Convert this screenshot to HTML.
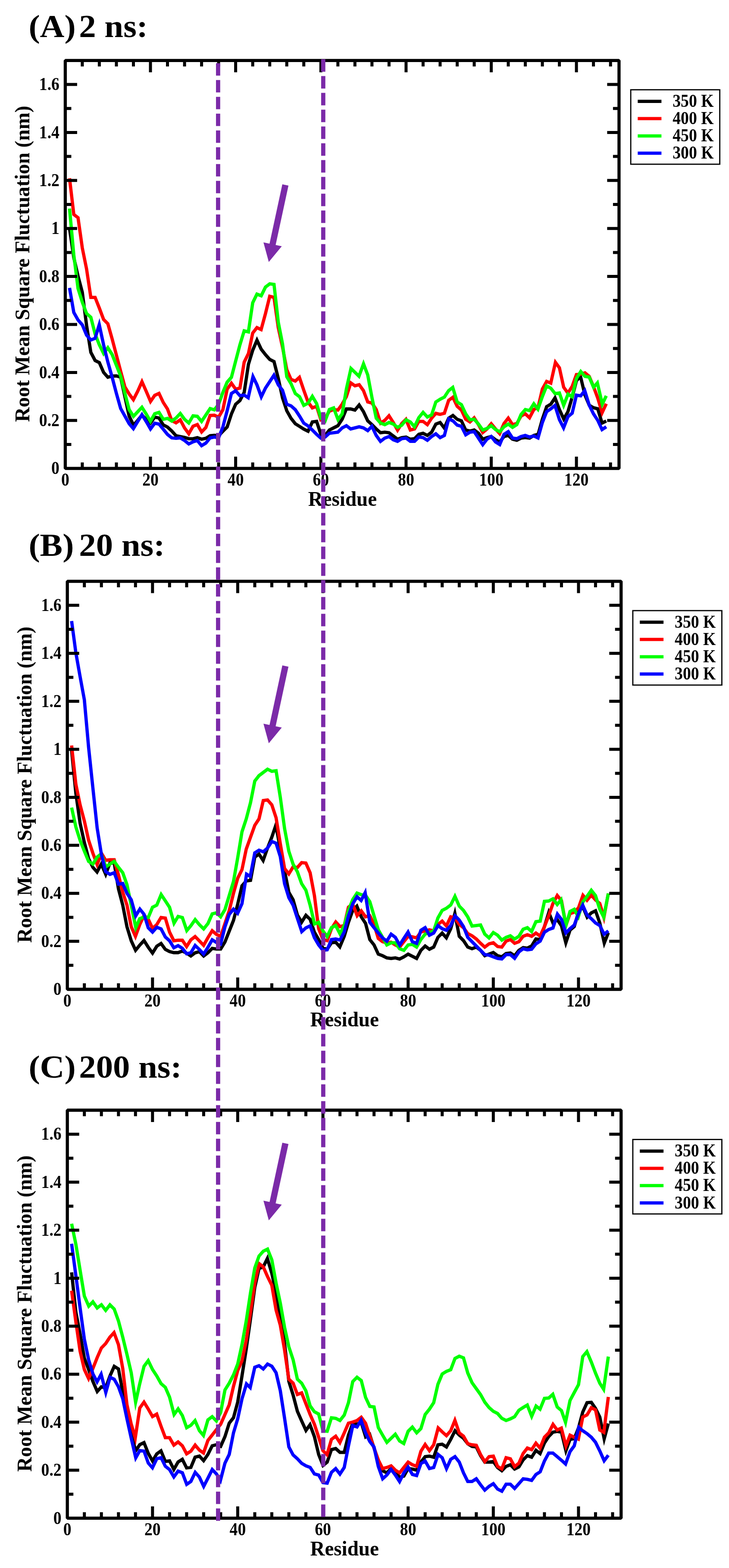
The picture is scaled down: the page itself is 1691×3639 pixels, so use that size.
<!DOCTYPE html>
<html lang="en">
<head>
<meta charset="utf-8">
<title>Root Mean Square Fluctuation per residue at 2 ns, 20 ns and 200 ns</title>
<style>
html,body{margin:0;padding:0;background:#fff}
body{width:1691px;height:3639px;overflow:hidden}
svg{display:block}
text{font-family:'Liberation Serif', 'DejaVu Serif', serif;font-weight:bold;fill:#000}
.cv{fill:none;stroke-width:7.6;stroke-linejoin:miter;stroke-miterlimit:10;stroke-linecap:butt}
.fr{fill:none;stroke:#000;stroke-width:7.3;stroke-linejoin:bevel}
.tk{fill:none;stroke:#000;stroke-width:7}
.tl{font-size:41.6px}
.xl{font-size:48px}
.yl{font-size:48px}
.lg{fill:#fff;stroke:#000;stroke-width:2.8}
.ll{fill:none;stroke-width:7.5}
.lt{font-size:41.6px}
.ti{font-size:75px}
.ds{fill:none;stroke:#7b2aa8;stroke-width:9.75;stroke-dasharray:28.9 10.1}
.ar{fill:#7b2aa8}
</style>
</head>
<body>
<svg role="img" aria-label="RMSF per residue at 2 ns, 20 ns and 200 ns" width="1691" height="3639" viewBox="0 0 1691 3639">
<rect width="1691" height="3639" fill="#fff"/>
<g class="plot">
<polyline class="cv" stroke="#000000" points="161.3,530.3 171.2,598 181,640.6 190.9,678.2 200.8,755.1 210.7,817.8 220.6,836.6 230.4,841.6 240.3,864.2 250.2,875.4 260.1,872.9 270,872.4 279.9,875.4 289.7,920.6 299.6,965.7 309.7,986.7 319.4,975.7 329.3,963.4 339.1,973.2 349,981.8 358.9,968.1 368.8,970.1 378.7,986.2 388.5,991.2 398.4,1000.2 408.3,1011.2 418.2,1013.2 428.1,1015.2 437.9,1018.2 447.8,1018.2 457.7,1015.8 467.6,1019.2 477.5,1017.2 487.4,1011.2 497.2,1010.2 507.1,1011.2 517,1000.9 526.9,990.9 536.8,960.8 546.6,938.2 556.5,929.5 566.4,910.7 576.3,845.5 586.2,812.9 596.1,789.6 605.9,810.4 615.8,823 625.7,834.2 635.6,839.2 645.5,878.1 655.3,923.2 665.2,953.3 675.1,970.8 685,983.4 694.9,989.6 704.7,995.9 714.6,1000.9 724.5,979.2 734.4,978 744.3,1008 754.1,1010.6 764,998 773.9,993 783.8,988 793.7,973 803.5,949.1 813.4,949.1 823.3,951.7 833.1,940 843.1,955.4 853,976.7 862.8,985.5 872.7,995.5 882.6,1004.3 892.5,1003 902.4,1004.3 912.2,1011.8 922.1,1019.3 932,1015.6 941.9,1014.3 951.8,1019.3 961.6,1018.1 971.5,1008 981.4,1005.5 991.3,1010.6 1001.2,1003 1011,984.2 1020.9,980.5 1030.6,993.3 1040.7,970.5 1050.6,964.2 1060.5,973 1070.3,976.7 1080.2,998 1090.1,1000.5 1100,998 1109.9,1005.5 1119.7,1019.3 1129.6,1015.6 1139.5,1013.1 1149.4,1020.6 1159.3,1025.6 1169.1,1013.1 1179,1010.6 1188.9,1019.3 1198.8,1021.8 1208.7,1016.8 1218.5,1015.6 1228.4,1016.8 1238.3,1010.6 1248.2,1008 1258.1,973 1268,943.7 1277.8,937.9 1287.4,923.4 1297.6,950.4 1307.6,972.4 1317.4,955.4 1327.2,922 1337.1,883.6 1346.4,873.2 1356.9,917 1366.8,940.4 1376.6,946.2 1386.5,948.7 1396.5,981.8 1406.3,977.1"/>
<polyline class="cv" stroke="#ff0000" points="161.3,413.8 171.2,497.7 181,505.3 190.9,575.4 200.8,624.3 210.7,690.2 220.6,690.2 230.4,715 240.3,741.4 250.2,751.4 260.1,786.5 270,824.1 279.9,861.7 289.7,898 299.6,914.3 309.4,927.5 319.4,908 329.3,885.9 339.1,908 349.2,931.7 358.9,917.5 368.8,913 378.7,934 388.5,949.1 398.4,976.1 408.3,981.2 418.1,974.3 428.1,993.2 437.9,1006.6 447.8,989.2 457.7,985.2 467.7,1002.4 477.5,992.2 487.4,964.1 497.2,963.7 507.1,968.1 517,950.8 526.9,903.2 536.8,889.3 546.6,903.2 556.5,900.7 566.4,840.5 576.3,820.5 586.2,772.8 596,760.3 605.7,764.9 615.8,727.7 625.7,687.6 635.6,690.1 645.5,760.3 655.3,805.4 665.2,858 675.1,880.6 685,884.4 694.5,875.8 704.7,905.7 714.6,933.2 724.5,946.6 734.4,942.9 744.3,974.2 754.1,970.5 764,954.2 773.9,950.4 783.8,951.7 793.7,937.9 803.5,920.3 813.7,888.6 823.3,895.3 833.2,892.8 843.1,906.5 853,932.9 862.8,935.4 872.7,950.4 882.9,982.1 892.5,975.5 902.3,964.9 912.2,980.5 922.2,998.4 932,983 941.6,973.2 951.8,998 961.6,995.5 971.5,978 981.4,978 991.3,985.5 1001.2,970.5 1011,959.2 1020.9,961.7 1030.8,959.2 1040.7,929.1 1050.5,922 1060.5,942.9 1070.3,951.7 1080.2,973 1090.1,979.2 1099.9,969.7 1109.9,985.5 1119.8,1003.8 1129.6,995.5 1139.5,983.5 1149.4,995.5 1159,1006.3 1169.1,983 1179,970.3 1188.9,985.5 1198.8,983 1208.7,965.4 1218.5,960.4 1228.3,969.6 1238.3,950.4 1248.2,945.4 1258.1,902.8 1268,885.2 1277.6,889 1288.4,841 1297.6,853.5 1307.5,898.6 1317.3,912.3 1327.2,896.9 1337.1,869.4 1347,868.5 1356.9,865.2 1366.8,873.5 1376.6,896.9 1386.5,923.7 1396.7,957.8 1406.3,937"/>
<polyline class="cv" stroke="#00ff00" points="161.3,484 171.2,591.7 181,669.4 190.9,701.3 200.8,727.6 210.7,736.3 220.6,775.2 230.4,800.3 240.4,820.4 250.2,807.1 260.1,822.8 270,847.9 279.9,872.9 289.7,913 299.6,950.6 309.6,966.2 319.4,955.6 329.2,945.1 339.1,960.7 349,977.8 358.9,960.1 368.8,957.1 378.7,973.1 388.5,971.1 398.4,977.1 408.3,970.1 418.2,959.6 428.1,973.1 437.9,981.7 447.8,965.1 457.7,966.1 467.5,978.1 477.5,963.1 487.4,948.1 497.2,951.1 507.1,938.2 517,910.7 526.9,886.9 536.8,875.6 546.6,838 556.5,800.4 566.4,767.8 576.2,770.2 586.2,702.7 596,682.6 605.9,686.4 615.8,666.3 625.7,658.8 635.6,660.1 645.5,747.8 655.3,797.9 665.2,874.3 675.1,890.6 685,913.2 694.9,920.7 704.7,940.8 714.6,935.7 724.5,919.8 734.4,936.6 744.3,970.5 753.9,977.3 764,950.4 773.9,946.6 784.1,973.8 793.7,960.4 803.5,902.8 814.1,855.1 823.3,863.9 832.7,873.2 843.2,844.4 853,870.2 862.8,922.8 872.7,970.5 882.6,981.7 892.5,985.5 902.4,980.5 912.2,984.2 922.1,991.8 932,986.7 941.9,974.2 951.8,979.2 961.4,990.3 971.5,969.2 981.4,957 991.3,967.9 1001.2,962.9 1011,932.9 1020.9,926.6 1030.8,921.6 1040.7,906.5 1050.2,899.1 1060.5,932.9 1070.3,939.1 1080.2,960.4 1090.1,974.2 1100,973 1109.9,984.2 1119.7,998 1129.6,994.3 1139.5,988 1149.4,996.8 1159.3,1001.8 1169.1,990.5 1179,984.2 1188.9,991.8 1198.8,985.5 1208.7,961.7 1218.5,950.4 1228.4,952.9 1238.3,937.2 1247.8,949.6 1258.1,920.3 1268,895.6 1277.8,901.1 1287.7,913.6 1297.6,912 1307.5,940.5 1317.7,914.7 1326.8,920.6 1337.1,878.6 1347.1,862.1 1356.9,873.5 1366.8,875.2 1376.9,898.9 1385.7,888.6 1397.1,937.9 1406.3,918.7"/>
<polyline class="cv" stroke="#0000ff" points="161.3,668.2 171.2,725.1 181,742.6 190.9,753.9 200.8,777.7 210.7,789 220.6,785.2 230.2,753.5 240.3,800.3 250.2,840.4 260.1,875.4 270,913 279.9,948.1 289.7,965.7 299.6,983.2 309.4,994.7 319.4,978.2 329.3,962.5 339.1,978.2 349.1,995.6 358.9,982.2 368.8,984.2 378.7,996.2 388.5,1008.2 398.4,1016.2 408.3,1017.2 418.2,1016.2 428.1,1022.3 437.9,1030.3 447.8,1025.3 457.7,1022.3 467.6,1034.3 477.5,1028.3 487.4,1016.2 497.2,1014.2 507.1,1016.2 517,990.9 526.9,953.3 536.8,913.2 546.6,906.9 556.5,918.2 566.4,916.9 575.7,923.1 586.8,874 596,893.1 606.1,920.9 615.8,900.7 625.7,885.6 635.4,870.8 645.5,893.1 655.3,905.7 665.2,938.2 675.1,942 685,950.8 694.9,965.8 704.7,982.1 714.6,988.4 724.5,998 734.4,1008 744.3,1016.8 754.1,1014.3 764,1005.5 773.9,1004.3 783.8,1003 793.7,993 803.5,988 813.4,995.5 823.3,993 833.2,990.5 843.1,993 853,999.3 862.6,989.3 872.7,1010.6 882.6,1024.3 892.5,1016.8 902.4,1013.1 912.2,1020.6 922.1,1024.3 932,1018.1 941.9,1016.8 951.8,1024.3 961.6,1024.3 971.5,1014.3 981.4,1015.6 991.3,1021.8 1001.2,1013.1 1011,1006.8 1020.9,1015.6 1030.8,1010.6 1040.9,972.1 1050.6,976.7 1060.5,986.7 1070.3,989.2 1080.3,1009.1 1090.1,1003 1100,1001.8 1109.9,1016.8 1119.8,1032 1129.6,1019.3 1139.5,1013.1 1149.4,1025.6 1159.2,1031.6 1169.1,1008 1179,1001.8 1188.9,1016.8 1198.8,1018.1 1208.7,1013.1 1218.5,1010.6 1228.4,1014.3 1238.3,1011.8 1248,1016.4 1258.1,980.5 1268,955.4 1277.8,948.7 1287.3,940.9 1297.6,973.8 1307.3,992.9 1317.4,967.1 1327.2,958.8 1337.1,917 1347,918.7 1356.4,906.6 1366.8,940.4 1376.6,960.4 1386.5,975.5 1396.5,996.9 1406.3,990.5"/>
<rect class="fr" x="151.4" y="140.3" width="1284.5" height="946.9"/>
<path class="tk" d="M190.9 1087.2v-14M190.9 140.3v14M230.4 1087.2v-14M230.4 140.3v14M270 1087.2v-14M270 140.3v14M309.5 1087.2v-14M309.5 140.3v14M349 1087.2v-27.5M349 140.3v27.5M388.5 1087.2v-14M388.5 140.3v14M428.1 1087.2v-14M428.1 140.3v14M467.6 1087.2v-14M467.6 140.3v14M507.1 1087.2v-14M507.1 140.3v14M546.6 1087.2v-27.5M546.6 140.3v27.5M586.2 1087.2v-14M586.2 140.3v14M625.7 1087.2v-14M625.7 140.3v14M665.2 1087.2v-14M665.2 140.3v14M704.7 1087.2v-14M704.7 140.3v14M744.3 1087.2v-27.5M744.3 140.3v27.5M783.8 1087.2v-14M783.8 140.3v14M823.3 1087.2v-14M823.3 140.3v14M862.8 1087.2v-14M862.8 140.3v14M902.4 1087.2v-14M902.4 140.3v14M941.9 1087.2v-27.5M941.9 140.3v27.5M981.4 1087.2v-14M981.4 140.3v14M1020.9 1087.2v-14M1020.9 140.3v14M1060.5 1087.2v-14M1060.5 140.3v14M1100 1087.2v-14M1100 140.3v14M1139.5 1087.2v-27.5M1139.5 140.3v27.5M1179 1087.2v-14M1179 140.3v14M1218.5 1087.2v-14M1218.5 140.3v14M1258.1 1087.2v-14M1258.1 140.3v14M1297.6 1087.2v-14M1297.6 140.3v14M1337.1 1087.2v-27.5M1337.1 140.3v27.5M1376.6 1087.2v-14M1376.6 140.3v14M1416.2 1087.2v-14M1416.2 140.3v14M151.4 1031.5h14M1435.9 1031.5h-14M151.4 975.8h27.5M1435.9 975.8h-27.5M151.4 920.1h14M1435.9 920.1h-14M151.4 864.4h27.5M1435.9 864.4h-27.5M151.4 808.7h14M1435.9 808.7h-14M151.4 753h27.5M1435.9 753h-27.5M151.4 697.3h14M1435.9 697.3h-14M151.4 641.6h27.5M1435.9 641.6h-27.5M151.4 585.9h14M1435.9 585.9h-14M151.4 530.2h27.5M1435.9 530.2h-27.5M151.4 474.5h14M1435.9 474.5h-14M151.4 418.8h27.5M1435.9 418.8h-27.5M151.4 363.1h14M1435.9 363.1h-14M151.4 307.4h27.5M1435.9 307.4h-27.5M151.4 251.7h14M1435.9 251.7h-14M151.4 196h27.5M1435.9 196h-27.5"/>
<text class="tl" text-anchor="middle" transform="translate(151.4 1127.1) scale(0.906 1)">0</text>
<text class="tl" text-anchor="middle" transform="translate(349.02 1127.1) scale(0.906 1)">20</text>
<text class="tl" text-anchor="middle" transform="translate(546.64 1127.1) scale(0.906 1)">40</text>
<text class="tl" text-anchor="middle" transform="translate(744.26 1127.1) scale(0.906 1)">60</text>
<text class="tl" text-anchor="middle" transform="translate(941.88 1127.1) scale(0.906 1)">80</text>
<text class="tl" text-anchor="middle" transform="translate(1139.5 1127.1) scale(0.906 1)">100</text>
<text class="tl" text-anchor="middle" transform="translate(1337.12 1127.1) scale(0.906 1)">120</text>
<text class="tl" text-anchor="end" transform="translate(137.9 1100.4) scale(0.906 1)">0</text>
<text class="tl" text-anchor="end" transform="translate(137.9 989) scale(0.906 1)">0.2</text>
<text class="tl" text-anchor="end" transform="translate(137.9 877.6) scale(0.906 1)">0.4</text>
<text class="tl" text-anchor="end" transform="translate(137.9 766.2) scale(0.906 1)">0.6</text>
<text class="tl" text-anchor="end" transform="translate(137.9 654.8) scale(0.906 1)">0.8</text>
<text class="tl" text-anchor="end" transform="translate(137.9 543.4) scale(0.906 1)">1</text>
<text class="tl" text-anchor="end" transform="translate(137.9 432) scale(0.906 1)">1.2</text>
<text class="tl" text-anchor="end" transform="translate(137.9 320.6) scale(0.906 1)">1.4</text>
<text class="tl" text-anchor="end" transform="translate(137.9 209.2) scale(0.906 1)">1.6</text>
<text class="xl" text-anchor="middle" transform="translate(794.37 1173.6) scale(0.98 1)">Residue</text>
<text class="yl" text-anchor="middle" transform="translate(67.9 612.35) rotate(-90) scale(0.9845 1)">Root Mean Square Fluctuation (nm)</text>
<rect class="lg" x="1463.1" y="208.3" width="206.5" height="172.8"/>
<path class="ll" stroke="#000000" d="M1479.3 235.2h55"/>
<text class="lt" text-anchor="end" transform="translate(1655.53 248) scale(0.906 1)">350 K</text>
<path class="ll" stroke="#ff0000" d="M1479.3 275.3h55"/>
<text class="lt" text-anchor="end" transform="translate(1655.53 288.1) scale(0.906 1)">400 K</text>
<path class="ll" stroke="#00ff00" d="M1479.3 315.4h55"/>
<text class="lt" text-anchor="end" transform="translate(1655.53 328.2) scale(0.906 1)">450 K</text>
<path class="ll" stroke="#0000ff" d="M1479.3 355.5h55"/>
<text class="lt" text-anchor="end" transform="translate(1655.53 368.3) scale(0.906 1)">300 K</text>
<text class="ti" transform="translate(66.4 85.5) scale(1.05 1)">(A)</text>
<text class="ti" transform="translate(183.3 85.5) scale(1.05 1)">2 ns:</text>
</g>
<g class="plot">
<polyline class="cv" stroke="#000000" points="166.1,1741.4 176,1841.6 185.8,1910.5 195.7,1955.3 205.6,1992.9 215.5,2012.9 225.1,2023.7 235,2005.5 245.2,2029.1 255,2002.9 264.9,2002.9 274.8,2063 284.7,2100.6 294.5,2150.8 304.4,2183.3 314.5,2205.3 324.2,2193.4 334,2182.8 343.9,2198.4 353.8,2212 363.7,2195.9 373.6,2189.6 383.5,2203.4 393.3,2208.4 403.2,2210.9 413.1,2210.9 423,2207.1 432.9,2212.2 442.7,2218.7 452.6,2211.2 462.5,2208.6 472.4,2218.7 482.3,2211.2 492.2,2201.1 502,2202.4 511.9,2202.4 521.8,2186.1 531.7,2161 541.6,2136 551.4,2098.4 561.3,2055.8 571.2,2044.5 581.1,2043.2 591,1989.3 600.8,1982.1 610.4,1997 620.6,1968 630.5,1943 639.9,1915 650.2,1970.6 660.1,2020.7 670,2070.8 679.9,2088.3 689.8,2123.4 699.7,2140.1 709.6,2124.2 719.4,2133.5 729.3,2163.5 739.2,2180.5 749.1,2200.5 758.9,2203 768.8,2188 778.7,2186.7 788.3,2197.4 798.5,2172.9 808.3,2140.4 818.2,2112.8 827.8,2103 838,2127.8 847.9,2142.9 857.8,2180.5 867.6,2193 877.5,2214.3 887.4,2218 897.3,2223.1 907.2,2224.3 917,2223.1 926.9,2225.6 936.8,2220.6 946.7,2214.3 956.6,2219.3 966.4,2224.3 976.3,2205.5 986.2,2195.5 996.1,2203 1006,2198 1015.8,2175.4 1025.7,2165.6 1035.4,2176.4 1045.5,2155.4 1055.1,2119.9 1065.3,2172.9 1075.1,2183 1085,2198 1094.9,2201.8 1104.8,2198 1114.7,2205.5 1124.5,2218 1134.4,2214.3 1144.3,2210.5 1154.2,2218 1164.1,2220.6 1173.9,2213 1183.8,2211.8 1193.7,2218 1203.6,2205.5 1213.5,2199.2 1223.3,2200.5 1233.2,2195.5 1243.1,2179.2 1253,2180.5 1262.9,2150.4 1272.9,2117.7 1283,2142.7 1292.5,2134.2 1302.4,2148.7 1312.5,2188 1322.2,2158.7 1332,2150.4 1341.9,2117 1351.5,2103.2 1362,2128.5 1371.6,2118.6 1381.4,2113.8 1391.3,2142 1401.7,2188.6 1411.1,2164.6"/>
<polyline class="cv" stroke="#ff0000" points="166.1,1730.1 176,1820.3 185.8,1867.9 195.7,1905.5 205.6,1950.3 215.5,1980.3 225.3,2006.3 235.7,1980.8 245.1,1996.6 255,1995.4 264.9,1995.4 274.8,2030.5 284.7,2070.6 294.5,2100.6 304.4,2150.8 314.2,2173 324.2,2145.7 334.2,2124.2 343.9,2133.2 354,2154.8 363.7,2145.7 373.6,2129.4 383.5,2130.7 393.3,2163.3 403.2,2183.3 413.1,2182.1 423,2182.1 432.8,2196.8 442.7,2181.1 452.6,2173.6 462.5,2183.6 472.3,2193.9 482.3,2176.1 492.2,2160.1 502,2168.5 511.8,2173.3 521.8,2143.5 531.7,2113.4 541.6,2073.3 551.4,2038.2 561.3,2018.2 571.2,1970.6 581.1,1943 591,1915.4 600.8,1900.4 610.7,1857.8 620.6,1856.5 630.5,1867.8 640.4,1897.9 650.2,1958 660.1,2015.7 669.9,2028.2 679.9,2011.9 689.8,2013.2 699.7,2001.9 709.5,2003.1 719.4,2025.7 729.3,2078.3 739.2,2155.4 749.1,2180.5 758.9,2183 768.8,2155.4 778.8,2139.8 788.6,2150.4 798.5,2147.9 808.3,2105.3 817.9,2097.7 828.5,2125.2 838,2113.9 847.9,2127.8 857.8,2125.3 867.6,2145.4 877.5,2177.9 887.4,2185.5 897.3,2188 907.2,2186.7 917,2193 926.9,2198 936.8,2185.5 946.7,2172.9 956.6,2174.2 966.4,2176.7 976.3,2162.9 986.2,2160.4 996.1,2157.9 1006,2160.4 1015.8,2145.4 1025.7,2137.8 1035.4,2148.9 1045.5,2127.8 1055.4,2130.3 1065.3,2145.4 1075.1,2152.9 1085,2166.7 1094.9,2171.7 1104.8,2179.2 1114.7,2189.2 1124.5,2198 1134.4,2190.5 1144.3,2188 1154.2,2196.7 1164.1,2198 1173.9,2184.2 1183.8,2180.5 1193.7,2189.2 1203.6,2185.5 1213.5,2172.9 1223.3,2169.2 1233.2,2172.9 1243.1,2165.4 1252.9,2172.4 1262.9,2150.4 1272.8,2125.3 1282.6,2096.9 1292.6,2078.3 1302.4,2090.2 1312.8,2147.5 1322.2,2120.3 1332,2117 1341.9,2106.9 1352.2,2077.9 1361.7,2089.3 1371.6,2077.4 1381.4,2088.6 1391.3,2096.9 1400.8,2129.1 1411.1,2073.5"/>
<polyline class="cv" stroke="#00ff00" points="166.1,1874.2 176,1919.3 185.8,1950.3 195.7,1975.3 205.6,1999.1 215.5,2005.4 225.4,1989.1 234.9,1981.5 245.4,2012 255,2005.4 264.9,1999.1 274.8,2012.9 284.7,2025.4 294.5,2053 304.4,2100.6 315,2152.8 324.2,2132 334.1,2128.2 343.9,2129.4 353.8,2105.6 363.7,2100.6 373.8,2076 383.5,2090.6 393.3,2105.6 403.7,2142.5 413.1,2126.9 423,2129.4 433.3,2159.6 442.7,2148.5 452.7,2134.3 462.5,2146 472.4,2155.8 482.3,2143.5 492.2,2120.9 502,2118.4 511.8,2127.8 521.8,2110.9 531.7,2078.3 541.6,2045.7 551.4,1990.6 561.3,1930.5 571.2,1900.4 581.1,1862.8 591,1812.7 600.8,1800.1 610.7,1792.6 620.6,1785.1 630.5,1790.1 640.4,1788.8 650.2,1850.3 660.1,1922.9 670,1975.6 679.9,2005.6 689.8,2023.2 699.7,2050.8 709.5,2065.8 719.4,2100.9 729.5,2144.4 739.2,2140.4 749.1,2160.4 758.8,2173.4 768.8,2152.9 778.7,2147.9 788.6,2167.2 798.5,2147.9 808.3,2112.8 818.2,2087.7 828.1,2072.7 838,2076.4 847.9,2077.7 857.8,2092.7 867.6,2125.3 877.5,2157.9 887.4,2175.4 897.3,2193 907.2,2188 917,2188 926.9,2201.8 936.8,2205.5 946.7,2193 956.6,2191.7 966.4,2198 976.3,2180.5 986.2,2167.9 996.1,2164.2 1006,2160.4 1015.8,2130.3 1025.7,2112.8 1035.6,2107.8 1045.5,2100.3 1055.3,2080.3 1065.3,2102.8 1075.1,2112.8 1085,2127.8 1094.9,2149.1 1104.8,2147.9 1114.7,2146.6 1124.5,2167.9 1134.4,2176.7 1144.3,2164.2 1154.2,2170.4 1164.1,2181.7 1173.9,2175.4 1183.8,2171.7 1193.7,2179.2 1203.6,2172.9 1213.5,2156.6 1223.3,2152.9 1233,2161.8 1243.1,2139.1 1253,2137.8 1262.9,2091.9 1272.8,2091.1 1282.6,2086 1292.5,2099.1 1301.4,2088.3 1312.8,2147.5 1322.2,2115.3 1332,2110.3 1341.5,2127.3 1351.8,2093.6 1361.7,2080.2 1371.6,2066.1 1381.4,2078.5 1391.3,2110.3 1400.4,2128.2 1411.1,2073.5"/>
<polyline class="cv" stroke="#0000ff" points="166.1,1441.3 176,1515.2 185.8,1570.4 195.7,1624.3 205.6,1735.1 215.5,1829.1 225.4,1921.8 235.2,1982.8 245.1,2022.9 255,2029.2 264.9,2025.4 274.8,2051.8 284.7,2050.5 294.5,2073.1 304.4,2088.1 314.8,2125.5 324.4,2109.8 334.1,2121.9 343.9,2153.3 353.8,2163.2 363.7,2152 373.6,2155.8 383.5,2174.6 393.3,2183.3 403.2,2199.6 413.1,2194.6 423,2200.9 432.9,2213.4 442.7,2211.2 452.7,2194.2 462.5,2203.6 472.3,2214.2 482.3,2198.6 492.2,2181.1 502,2187.3 511.8,2190.9 521.8,2151 531.7,2122.2 541.6,2110 551.2,2119.6 561.3,2097.1 571.9,2028.8 580.5,2034 591,1979.3 600.8,1973.1 610.7,1976.8 620.6,1968 630.5,1953 640.4,1956.8 650.2,1988.1 660.1,2050.8 670,2083.3 679.9,2100.9 689.8,2131 700,2162 709.5,2153.5 719.3,2148.7 729.3,2176.1 739.2,2193 749.1,2205.5 758.9,2204.3 768.8,2180.5 778.7,2179.2 788.6,2181.7 798.5,2162.9 808.3,2125.3 818.2,2097.7 828.2,2081.1 837.7,2089.9 847,2071.7 857.8,2140.4 867.6,2152.9 877.5,2165.4 887.4,2176.7 897.2,2184.1 907.2,2168 917,2175.4 927,2193.4 936.8,2177.9 946.5,2163.1 956.6,2185.5 966.4,2189.2 976.3,2159.1 986.2,2152.9 996.1,2170.4 1006,2165.4 1015.9,2148.1 1025.7,2155.4 1035.6,2159.1 1045.5,2147.9 1055.6,2125.4 1065.3,2135.3 1075.1,2150.4 1085,2175.4 1094.9,2185.5 1104.8,2195.5 1114.7,2205.5 1124.5,2215.5 1134.4,2216.8 1144.3,2220.6 1154.2,2224.3 1164.1,2225.6 1173.9,2215.5 1183.8,2215.5 1193.7,2224.1 1203.6,2209.3 1213.5,2201.8 1223.3,2204.3 1233.2,2203 1243.1,2190.5 1253,2184.2 1262.9,2163.7 1272.8,2157.1 1282.6,2153.7 1293,2121.5 1302.4,2133.7 1312.7,2165.1 1322.2,2155.4 1332,2147 1341.9,2120.3 1351.7,2100.8 1361.7,2123.6 1371.6,2132 1381.4,2142 1391.3,2147.9 1401.3,2168.2 1411.1,2160.4"/>
<rect class="fr" x="156.2" y="1349.1" width="1284.5" height="946.9"/>
<path class="tk" d="M195.7 2296v-14M195.7 1349.1v14M235.2 2296v-14M235.2 1349.1v14M274.8 2296v-14M274.8 1349.1v14M314.3 2296v-14M314.3 1349.1v14M353.8 2296v-27.5M353.8 1349.1v27.5M393.3 2296v-14M393.3 1349.1v14M432.9 2296v-14M432.9 1349.1v14M472.4 2296v-14M472.4 1349.1v14M511.9 2296v-14M511.9 1349.1v14M551.4 2296v-27.5M551.4 1349.1v27.5M591 2296v-14M591 1349.1v14M630.5 2296v-14M630.5 1349.1v14M670 2296v-14M670 1349.1v14M709.5 2296v-14M709.5 1349.1v14M749.1 2296v-27.5M749.1 1349.1v27.5M788.6 2296v-14M788.6 1349.1v14M828.1 2296v-14M828.1 1349.1v14M867.6 2296v-14M867.6 1349.1v14M907.2 2296v-14M907.2 1349.1v14M946.7 2296v-27.5M946.7 1349.1v27.5M986.2 2296v-14M986.2 1349.1v14M1025.7 2296v-14M1025.7 1349.1v14M1065.3 2296v-14M1065.3 1349.1v14M1104.8 2296v-14M1104.8 1349.1v14M1144.3 2296v-27.5M1144.3 1349.1v27.5M1183.8 2296v-14M1183.8 1349.1v14M1223.3 2296v-14M1223.3 1349.1v14M1262.9 2296v-14M1262.9 1349.1v14M1302.4 2296v-14M1302.4 1349.1v14M1341.9 2296v-27.5M1341.9 1349.1v27.5M1381.4 2296v-14M1381.4 1349.1v14M1421 2296v-14M1421 1349.1v14M156.2 2240.3h14M1440.7 2240.3h-14M156.2 2184.6h27.5M1440.7 2184.6h-27.5M156.2 2128.9h14M1440.7 2128.9h-14M156.2 2073.2h27.5M1440.7 2073.2h-27.5M156.2 2017.5h14M1440.7 2017.5h-14M156.2 1961.8h27.5M1440.7 1961.8h-27.5M156.2 1906.1h14M1440.7 1906.1h-14M156.2 1850.4h27.5M1440.7 1850.4h-27.5M156.2 1794.7h14M1440.7 1794.7h-14M156.2 1739h27.5M1440.7 1739h-27.5M156.2 1683.3h14M1440.7 1683.3h-14M156.2 1627.6h27.5M1440.7 1627.6h-27.5M156.2 1571.9h14M1440.7 1571.9h-14M156.2 1516.2h27.5M1440.7 1516.2h-27.5M156.2 1460.5h14M1440.7 1460.5h-14M156.2 1404.8h27.5M1440.7 1404.8h-27.5"/>
<text class="tl" text-anchor="middle" transform="translate(156.2 2335.9) scale(0.906 1)">0</text>
<text class="tl" text-anchor="middle" transform="translate(353.82 2335.9) scale(0.906 1)">20</text>
<text class="tl" text-anchor="middle" transform="translate(551.44 2335.9) scale(0.906 1)">40</text>
<text class="tl" text-anchor="middle" transform="translate(749.06 2335.9) scale(0.906 1)">60</text>
<text class="tl" text-anchor="middle" transform="translate(946.68 2335.9) scale(0.906 1)">80</text>
<text class="tl" text-anchor="middle" transform="translate(1144.3 2335.9) scale(0.906 1)">100</text>
<text class="tl" text-anchor="middle" transform="translate(1341.92 2335.9) scale(0.906 1)">120</text>
<text class="tl" text-anchor="end" transform="translate(142.7 2309.2) scale(0.906 1)">0</text>
<text class="tl" text-anchor="end" transform="translate(142.7 2197.8) scale(0.906 1)">0.2</text>
<text class="tl" text-anchor="end" transform="translate(142.7 2086.4) scale(0.906 1)">0.4</text>
<text class="tl" text-anchor="end" transform="translate(142.7 1975) scale(0.906 1)">0.6</text>
<text class="tl" text-anchor="end" transform="translate(142.7 1863.6) scale(0.906 1)">0.8</text>
<text class="tl" text-anchor="end" transform="translate(142.7 1752.2) scale(0.906 1)">1</text>
<text class="tl" text-anchor="end" transform="translate(142.7 1640.8) scale(0.906 1)">1.2</text>
<text class="tl" text-anchor="end" transform="translate(142.7 1529.4) scale(0.906 1)">1.4</text>
<text class="tl" text-anchor="end" transform="translate(142.7 1418) scale(0.906 1)">1.6</text>
<text class="xl" text-anchor="middle" transform="translate(799.17 2382.4) scale(0.98 1)">Residue</text>
<text class="yl" text-anchor="middle" transform="translate(72.7 1821.15) rotate(-90) scale(0.9845 1)">Root Mean Square Fluctuation (nm)</text>
<rect class="lg" x="1467.9" y="1417.1" width="206.5" height="172.8"/>
<path class="ll" stroke="#000000" d="M1484.1 1444h55"/>
<text class="lt" text-anchor="end" transform="translate(1660.33 1456.8) scale(0.906 1)">350 K</text>
<path class="ll" stroke="#ff0000" d="M1484.1 1484.1h55"/>
<text class="lt" text-anchor="end" transform="translate(1660.33 1496.9) scale(0.906 1)">400 K</text>
<path class="ll" stroke="#00ff00" d="M1484.1 1524.2h55"/>
<text class="lt" text-anchor="end" transform="translate(1660.33 1537) scale(0.906 1)">450 K</text>
<path class="ll" stroke="#0000ff" d="M1484.1 1564.3h55"/>
<text class="lt" text-anchor="end" transform="translate(1660.33 1577.1) scale(0.906 1)">300 K</text>
<text class="ti" transform="translate(66.4 1290.4) scale(1.05 1)">(B)</text>
<text class="ti" transform="translate(183.3 1290.4) scale(1.05 1)">20 ns:</text>
</g>
<g class="plot">
<polyline class="cv" stroke="#000000" points="166.1,2952.8 176,3045.6 185.8,3095.7 195.7,3152.1 205.6,3178.4 215.5,3206 225.6,3229.3 235.2,3218.5 245.1,3221 255,3193.4 265,3171.1 274.8,3177.1 284.7,3231 294.5,3285.1 304.4,3330.3 314.8,3366.6 324.2,3352.8 334,3347.9 343.9,3372.9 353.8,3390.6 363.7,3374.1 373.4,3367.2 383.5,3391.7 393.3,3390.4 403.3,3410.2 413.1,3392.9 422.9,3386.8 432.9,3406.7 442.7,3405.5 452.6,3381.7 462.5,3379.2 472.3,3389.9 482.3,3375.4 492.2,3355.4 502,3352.9 511.9,3356.6 521.8,3334.1 531.7,3302.8 541.6,3290.2 551.4,3253.9 561.3,3193.3 571.2,3130.6 581.1,3060.5 591,2987.8 600.8,2943.9 610.7,2940.2 620.2,2920.7 630.5,2955.2 640.4,3000.3 650.2,3055.4 660.1,3118.1 670,3205.8 679.9,3237.6 689.8,3275.2 699.7,3297.7 709.7,3319.7 719.1,3306.5 729.3,3334.1 739.2,3375.6 749.3,3401 758.9,3393.2 768.8,3364.3 778.7,3361.8 788.6,3370.6 798.5,3370.6 808.3,3330.5 818.2,3302.9 828.1,3305.4 837.8,3300.8 848.2,3334.6 857.5,3328.9 867.6,3360.6 877.5,3390.7 887.4,3413.2 897.3,3418.2 907.2,3408.2 917,3418.2 926.9,3428.2 936.8,3425.7 946.7,3408.2 956.6,3409.4 966.4,3412 976.3,3393.2 986.2,3380.6 996.1,3379.4 1006,3381.9 1015.8,3353.1 1025.7,3351.8 1035.6,3358.1 1045.5,3340.5 1055.5,3320.4 1065.3,3330.5 1075.1,3338 1085,3350.6 1094.9,3356.8 1104.8,3358.1 1114.7,3378.1 1124.5,3393.2 1134.4,3393.2 1144.3,3391.9 1154.2,3405.7 1164.1,3413.2 1173.9,3403.2 1183.8,3399.4 1193.7,3409.4 1203.6,3404.4 1213.5,3388.1 1223.3,3378.1 1233.2,3381.9 1243.2,3365.9 1252.8,3373.5 1262.9,3348.9 1272.8,3333.8 1282.6,3323.8 1292.5,3322.1 1302.4,3323.8 1312.7,3366.8 1322.2,3340.5 1332,3338.9 1341.9,3313.8 1351.8,3277 1361.7,3255.3 1371.6,3254.5 1381.4,3268.7 1391.3,3288.7 1401.5,3339.3 1411.1,3303.8"/>
<polyline class="cv" stroke="#ff0000" points="166.1,2995.4 176,3068.1 185.8,3135.8 195.7,3178.4 205.5,3199.3 215.5,3175.9 225.4,3150.8 235.2,3128.3 245.1,3118.2 255,3103.2 264.5,3092.7 274.8,3120.8 284.7,3175.9 294.5,3260.1 304.4,3305.2 313.8,3336.9 324.2,3267.6 334,3254 343.9,3270.1 353.8,3287.6 363.5,3281.9 373.6,3310.2 383.5,3336.5 393.3,3336.5 403.3,3353.9 413.1,3346.5 423,3355.3 432.9,3374 442.7,3367.9 452.7,3353.7 462.5,3365.4 472.1,3372.1 482.3,3342.9 492.2,3330.3 502,3317.8 511.9,3305.3 521.8,3282.7 531.7,3260.2 541.6,3217.5 551.4,3180.8 561.3,3158.2 571.2,3110.6 581.1,3045.4 591,2977.7 601.4,2933 610.7,2940.2 620.6,2962.7 630.5,2982.8 640.4,3040.4 650.2,3075.5 660.1,3133.1 670,3200.8 679.9,3210 689.8,3236.3 699.7,3232.6 709.5,3257.6 719.4,3282.7 729.3,3305.3 739.2,3335.5 749.1,3366.8 758.5,3376.1 768.8,3340.5 778.7,3333.2 788.4,3347.9 798.5,3325.5 808.3,3302.9 818.2,3300.4 828.1,3296.7 838,3289.1 847.9,3302.9 857.8,3333 867.6,3360.6 877.5,3388.1 887.4,3408.2 897.3,3405.7 907.2,3401.9 917,3412 926.9,3418.2 936.8,3405.7 946.7,3393.2 956.6,3399.4 966.4,3403.1 976.3,3368.1 986.2,3352.4 996.1,3366.7 1006,3353.1 1016.4,3313.9 1025.7,3323 1035.6,3331.8 1045.5,3320.5 1055.2,3296.4 1065.3,3325.5 1075.1,3333 1085,3350.6 1094.9,3353.1 1104.8,3354.3 1114.7,3375.6 1124.6,3392.1 1134.4,3380.6 1144.3,3379.4 1154.2,3403.2 1163.9,3409 1173.9,3383.1 1183.8,3385.6 1193.8,3403.9 1203.6,3395.7 1213.5,3373.1 1223.3,3360.6 1233.2,3364.3 1243.1,3349.3 1252.7,3360.7 1262.9,3335.5 1272.8,3325.5 1282.8,3305.7 1292.5,3318.8 1302.1,3314.4 1312.7,3355.6 1322.3,3330.8 1332,3335.5 1341.6,3339.9 1351.8,3288.7 1361.7,3283.7 1371.6,3267 1381.4,3272 1391.3,3318.8 1400.6,3324.2 1411.1,3241.9"/>
<polyline class="cv" stroke="#00ff00" points="166.1,2840.1 176,2887.7 185.8,2947.8 195.7,3008 205.9,3031.3 215.5,3021.3 225.4,3035.5 235.2,3028 245.1,3041 255,3028.3 264.9,3038 274.8,3065.6 284.7,3103.2 294.5,3143.3 304.4,3185.9 314.6,3254.2 324.2,3211 334.1,3170.9 343.8,3157.8 353.8,3178.4 363.7,3193.4 373.6,3211 383.5,3219.7 393.3,3242.5 403.8,3282.8 413.2,3269.7 423,3285.1 433,3313.5 442.7,3307.8 452.4,3296.9 462.5,3320.3 471.9,3331.3 482.3,3295.2 492.2,3287.7 501.9,3297.8 511.9,3277.7 521.8,3225.8 531.7,3210 541.6,3190.8 551.4,3165.7 561.3,3120.6 571.2,3065.5 581.1,3000.3 591,2942.7 600.8,2915.1 610.7,2903.8 620.6,2898.9 630.5,2923.9 640.4,2977.7 650.2,3024.1 660.1,3080.5 670,3125.6 679.9,3155.7 689.8,3200.8 699.7,3210 709.5,3227.6 719.4,3262.7 729.3,3276.4 739.2,3281.6 749.1,3320.5 758.9,3321.7 768.8,3290.4 778.7,3291.7 788.6,3296.7 798.5,3284.1 808.3,3255.3 818.2,3206.4 828.1,3196.4 838,3203.9 847.9,3242.8 857.8,3264.1 867.6,3265.3 877.5,3313 887.4,3330.5 897.4,3347.4 907.2,3338 917,3328.5 926.9,3344.3 936.6,3350.1 946.7,3321.7 956.5,3312 966.5,3325.2 976.3,3315.5 986.2,3282.9 996.1,3270.4 1006,3255.3 1015.8,3212.7 1025.7,3188.9 1035.6,3182.6 1045.5,3178.9 1055.4,3152.6 1065.3,3147.5 1075.1,3151.3 1085,3186.4 1094.9,3208.9 1104.8,3222.7 1114.7,3236.5 1124.5,3254.1 1134.4,3266.6 1144.3,3275.4 1154.2,3280.4 1164.1,3291.7 1173.9,3296.7 1183.8,3292.9 1193.7,3287.9 1203.6,3272.9 1213.5,3266.6 1223.1,3260.9 1233.3,3287 1243.5,3263 1252.7,3270.4 1262.9,3245.3 1272.8,3244.5 1282.3,3235.9 1292.5,3265.3 1302.4,3273.7 1311.8,3300.9 1322.2,3250.3 1332,3231.9 1341.9,3213.5 1351.8,3148.4 1361.4,3136.9 1371.6,3160.9 1381.4,3186.8 1391.3,3210.2 1400.2,3224.1 1411.1,3148.4"/>
<polyline class="cv" stroke="#0000ff" points="166.1,2886.4 176,2960.4 185.8,3035.5 195.7,3108.2 205.6,3155.8 215.5,3188.4 225.2,3206.9 234.6,3189.3 245.4,3231.5 255.3,3196.4 264.9,3201 274.8,3218.5 284.7,3246 294.5,3292.7 304.4,3337.8 314.9,3383.3 324.2,3366.6 334.1,3367.8 343.9,3395.4 353.6,3406.4 363.7,3385.4 373.6,3382.9 383.5,3402.9 393.3,3410.5 403.3,3427.6 413.1,3414.2 423,3418 433.1,3444.8 442.7,3438.1 452.8,3417 462.5,3428.1 472.5,3449.6 482.3,3430.6 492.3,3410.5 502,3420.6 511.3,3435.8 521.8,3395.5 531.7,3375.4 541.6,3325.3 551.4,3292.7 561.3,3246.4 571.7,3211.8 580.4,3220.2 591,3173.2 600.8,3169.5 610.7,3177 620.6,3165.7 630.5,3170.7 640.4,3185.8 650.2,3227.6 660.1,3291.5 670,3357.9 679.9,3376.7 689.8,3385.5 699.7,3396 709.5,3401.8 719.4,3405.5 729.3,3420.6 739.2,3423.2 749.1,3440.8 758.9,3442 768.8,3417 778.7,3408.3 788.5,3420.9 798.5,3405.7 808.3,3355.6 818.4,3308.2 828.1,3311.7 837.6,3296.5 847.9,3325.5 857.8,3345.5 867.6,3358.1 877.5,3403.2 887.7,3431.9 897.3,3423.2 907.2,3410.2 917,3423.2 926.8,3438.4 936.8,3418.2 946.6,3404.8 956.6,3422 966.4,3424.5 976.3,3396.9 986.2,3390.7 996.1,3408.2 1006,3405.7 1016.2,3375.5 1025.7,3383.1 1035.7,3408.4 1045.5,3386.9 1055.4,3380.6 1065.3,3393.2 1075.1,3418.2 1085,3438.3 1094.9,3438.3 1104.8,3432 1114.7,3445.8 1124.5,3458.3 1134.4,3449.5 1144.3,3443.3 1154.2,3455.8 1164.1,3460.8 1173.9,3444.5 1183.8,3444.5 1193.7,3454.5 1203.6,3443.3 1213.5,3432 1223.3,3433.3 1233.2,3435.8 1243.1,3422 1253,3415.7 1262.9,3390.7 1272.8,3372.3 1282.6,3372.3 1292.5,3380.6 1302.4,3389 1311.9,3397.6 1322.2,3368.9 1332,3355.6 1342.5,3312.4 1351.8,3320.5 1361.7,3327.2 1371.6,3335.5 1381.4,3347.2 1391.3,3367.3 1401.4,3390.1 1411.1,3377.3"/>
<rect class="fr" x="156.2" y="2576.5" width="1284.5" height="946.9"/>
<path class="tk" d="M195.7 3523.4v-14M195.7 2576.5v14M235.2 3523.4v-14M235.2 2576.5v14M274.8 3523.4v-14M274.8 2576.5v14M314.3 3523.4v-14M314.3 2576.5v14M353.8 3523.4v-27.5M353.8 2576.5v27.5M393.3 3523.4v-14M393.3 2576.5v14M432.9 3523.4v-14M432.9 2576.5v14M472.4 3523.4v-14M472.4 2576.5v14M511.9 3523.4v-14M511.9 2576.5v14M551.4 3523.4v-27.5M551.4 2576.5v27.5M591 3523.4v-14M591 2576.5v14M630.5 3523.4v-14M630.5 2576.5v14M670 3523.4v-14M670 2576.5v14M709.5 3523.4v-14M709.5 2576.5v14M749.1 3523.4v-27.5M749.1 2576.5v27.5M788.6 3523.4v-14M788.6 2576.5v14M828.1 3523.4v-14M828.1 2576.5v14M867.6 3523.4v-14M867.6 2576.5v14M907.2 3523.4v-14M907.2 2576.5v14M946.7 3523.4v-27.5M946.7 2576.5v27.5M986.2 3523.4v-14M986.2 2576.5v14M1025.7 3523.4v-14M1025.7 2576.5v14M1065.3 3523.4v-14M1065.3 2576.5v14M1104.8 3523.4v-14M1104.8 2576.5v14M1144.3 3523.4v-27.5M1144.3 2576.5v27.5M1183.8 3523.4v-14M1183.8 2576.5v14M1223.3 3523.4v-14M1223.3 2576.5v14M1262.9 3523.4v-14M1262.9 2576.5v14M1302.4 3523.4v-14M1302.4 2576.5v14M1341.9 3523.4v-27.5M1341.9 2576.5v27.5M1381.4 3523.4v-14M1381.4 2576.5v14M1421 3523.4v-14M1421 2576.5v14M156.2 3467.7h14M1440.7 3467.7h-14M156.2 3412h27.5M1440.7 3412h-27.5M156.2 3356.3h14M1440.7 3356.3h-14M156.2 3300.6h27.5M1440.7 3300.6h-27.5M156.2 3244.9h14M1440.7 3244.9h-14M156.2 3189.2h27.5M1440.7 3189.2h-27.5M156.2 3133.5h14M1440.7 3133.5h-14M156.2 3077.8h27.5M1440.7 3077.8h-27.5M156.2 3022.1h14M1440.7 3022.1h-14M156.2 2966.4h27.5M1440.7 2966.4h-27.5M156.2 2910.7h14M1440.7 2910.7h-14M156.2 2855h27.5M1440.7 2855h-27.5M156.2 2799.3h14M1440.7 2799.3h-14M156.2 2743.6h27.5M1440.7 2743.6h-27.5M156.2 2687.9h14M1440.7 2687.9h-14M156.2 2632.2h27.5M1440.7 2632.2h-27.5"/>
<text class="tl" text-anchor="middle" transform="translate(156.2 3563.3) scale(0.906 1)">0</text>
<text class="tl" text-anchor="middle" transform="translate(353.82 3563.3) scale(0.906 1)">20</text>
<text class="tl" text-anchor="middle" transform="translate(551.44 3563.3) scale(0.906 1)">40</text>
<text class="tl" text-anchor="middle" transform="translate(749.06 3563.3) scale(0.906 1)">60</text>
<text class="tl" text-anchor="middle" transform="translate(946.68 3563.3) scale(0.906 1)">80</text>
<text class="tl" text-anchor="middle" transform="translate(1144.3 3563.3) scale(0.906 1)">100</text>
<text class="tl" text-anchor="middle" transform="translate(1341.92 3563.3) scale(0.906 1)">120</text>
<text class="tl" text-anchor="end" transform="translate(142.7 3536.6) scale(0.906 1)">0</text>
<text class="tl" text-anchor="end" transform="translate(142.7 3425.2) scale(0.906 1)">0.2</text>
<text class="tl" text-anchor="end" transform="translate(142.7 3313.8) scale(0.906 1)">0.4</text>
<text class="tl" text-anchor="end" transform="translate(142.7 3202.4) scale(0.906 1)">0.6</text>
<text class="tl" text-anchor="end" transform="translate(142.7 3091) scale(0.906 1)">0.8</text>
<text class="tl" text-anchor="end" transform="translate(142.7 2979.6) scale(0.906 1)">1</text>
<text class="tl" text-anchor="end" transform="translate(142.7 2868.2) scale(0.906 1)">1.2</text>
<text class="tl" text-anchor="end" transform="translate(142.7 2756.8) scale(0.906 1)">1.4</text>
<text class="tl" text-anchor="end" transform="translate(142.7 2645.4) scale(0.906 1)">1.6</text>
<text class="xl" text-anchor="middle" transform="translate(799.17 3609.8) scale(0.98 1)">Residue</text>
<text class="yl" text-anchor="middle" transform="translate(72.7 3048.55) rotate(-90) scale(0.9845 1)">Root Mean Square Fluctuation (nm)</text>
<rect class="lg" x="1467.9" y="2644.5" width="206.5" height="172.8"/>
<path class="ll" stroke="#000000" d="M1484.1 2671.4h55"/>
<text class="lt" text-anchor="end" transform="translate(1660.33 2684.2) scale(0.906 1)">350 K</text>
<path class="ll" stroke="#ff0000" d="M1484.1 2711.5h55"/>
<text class="lt" text-anchor="end" transform="translate(1660.33 2724.3) scale(0.906 1)">400 K</text>
<path class="ll" stroke="#00ff00" d="M1484.1 2751.6h55"/>
<text class="lt" text-anchor="end" transform="translate(1660.33 2764.4) scale(0.906 1)">450 K</text>
<path class="ll" stroke="#0000ff" d="M1484.1 2791.7h55"/>
<text class="lt" text-anchor="end" transform="translate(1660.33 2804.5) scale(0.906 1)">300 K</text>
<text class="ti" transform="translate(66.4 2500.8) scale(1.05 1)">(C)</text>
<text class="ti" transform="translate(183.3 2500.8) scale(1.05 1)">200 ns:</text>
</g>
<path class="ds" d="M505.9 146.7V3529.7"/>
<path class="ds" d="M749.8 137.6V3521"/>
<polygon class="ar" points="654.9,427.7 625.2,565.5 611.1,562.5 623.5,608.1 653.6,571.6 639.4,568.6 669.1,430.7"/>
<polygon class="ar" points="654.9,1544.2 625.2,1682.4 611.1,1679.4 623.5,1725 653.6,1688.5 639.4,1685.5 669.1,1547.2"/>
<polygon class="ar" points="654.9,2652 625.3,2789.6 611.1,2786.6 623.5,2832.2 653.6,2795.7 639.4,2792.7 669.1,2655"/>
</svg>
</body>
</html>
